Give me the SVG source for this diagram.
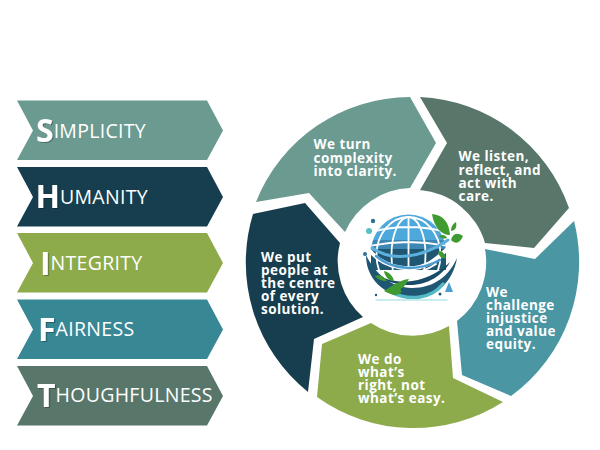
<svg xmlns="http://www.w3.org/2000/svg" width="600" height="450" viewBox="0 0 600 450">
<style>
.chev text{font-family:"Open Sans",sans-serif;fill:#fff;font-size:19.5px;letter-spacing:.3px}
.chev .cap{font-size:32px;font-weight:700;letter-spacing:0;filter:url(#sh)}
.seg text{font-family:"Open Sans",sans-serif;font-weight:700;fill:#fff;font-size:13.5px;letter-spacing:.45px}
</style>
<defs>
<filter id="sh" x="-30%" y="-30%" width="170%" height="170%"><feDropShadow dx="1.2" dy="1" stdDeviation=".3" flood-color="#000" flood-opacity=".3"/></filter>
<path id="chevron" d="M0 0H190L206 30L190 59.500H0L16 30Z"/>
<clipPath id="globeclip"><path d="M371 252A37 37 0 1 1 446 252L446 270L371 270Z"/></clipPath>
</defs>
<rect width="600" height="450" fill="#fff"/>
<g id="chevron-simplicity" class="chev"><use href="#chevron" x="17" y="100.500" fill="#6a9a90"/><text x="36" y="137.500"><tspan class="cap" dy="4.500">S</tspan><tspan dy="-4.500">IMPLICITY</tspan></text></g>
<g id="chevron-humanity" class="chev"><use href="#chevron" x="17" y="167" fill="#163e4e"/><text x="35.500" y="203.500"><tspan class="cap" dy="4.500">H</tspan><tspan dy="-4.500">UMANITY</tspan></text></g>
<g id="chevron-integrity" class="chev"><use href="#chevron" x="17" y="233" fill="#8eab4b"/><text x="40" y="270"><tspan class="cap" dy="4.500">I</tspan><tspan dy="-4.500">NTEGRITY</tspan></text></g>
<g id="chevron-fairness" class="chev"><use href="#chevron" x="17" y="299.500" fill="#388795"/><text x="38" y="336"><tspan class="cap" dy="4.500">F</tspan><tspan dy="-4.500">AIRNESS</tspan></text></g>
<g id="chevron-thoughtfulness" class="chev"><use href="#chevron" x="17" y="366" fill="#58776a"/><text x="37" y="402"><tspan class="cap" dy="4.500">T</tspan><tspan dy="-4.500">HOUGHFULNESS</tspan></text></g>
<g id="connectors"/>
<g id="seg-simplicity" class="seg"><path fill="#6a9a90" d="M256 202A166 166 0 0 1 410 97L436 143L410 188A74 74 0 0 0 345 232L309 193Z"/><text><tspan x="313.500" y="149">We turn</tspan><tspan x="313.500" y="163">complexity</tspan><tspan x="313.500" y="176">into clarity.</tspan></text></g>
<g id="seg-listen" class="seg"><path fill="#58776a" d="M420 97A166 166 0 0 1 569 208L534 248L485 243A74 74 0 0 0 420 190L447 143Z"/><text><tspan x="458.500" y="161">We listen,</tspan><tspan x="458.500" y="174.500">reflect, and</tspan><tspan x="458.500" y="187.500">act with</tspan><tspan x="458.500" y="200.500">care.</tspan></text></g>
<g id="seg-fairness" class="seg"><path fill="#4a96a3" d="M574 221A166 166 0 0 1 511 396L462 375L457 321A74 74 0 0 0 485 249L535 259Z"/><text><tspan x="486" y="297">We</tspan><tspan x="486" y="310">challenge</tspan><tspan x="486" y="323">injustice</tspan><tspan x="486" y="336">and value</tspan><tspan x="486" y="349">equity.</tspan></text></g>
<g id="seg-integrity" class="seg"><path fill="#8eab4b" d="M371 323A74 74 0 0 0 449 326L453 378L503 402A166 166 0 0 1 317 397L322 344Z"/><text><tspan x="358" y="364">We do</tspan><tspan x="358" y="377">what’s</tspan><tspan x="358" y="390">right, not</tspan><tspan x="358" y="403">what’s easy.</tspan></text></g>
<g id="seg-people" class="seg"><path fill="#163e4e" d="M308 392A166 166 0 0 1 253 214L305 203L340 243A74 74 0 0 0 363 317L314 339Z"/><text><tspan x="261" y="262">We put</tspan><tspan x="261" y="275">people at</tspan><tspan x="261" y="288">the centre</tspan><tspan x="261" y="301">of every</tspan><tspan x="261" y="314">solution.</tspan></text></g>
<g id="globe-logo">
<g clip-path="url(#globeclip)">
<rect x="365" y="212" width="90" height="30" fill="#4da9dc"/>
<rect x="365" y="240" width="90" height="10" fill="#3d87b4"/>
<rect x="365" y="249" width="90" height="25" fill="#1f5773"/>
<g fill="none" stroke="#fff" stroke-width="1.800"><ellipse cx="408.500" cy="255" rx="17" ry="38"/><ellipse cx="408.500" cy="255" rx="32" ry="38"/><path d="M408.500 217V280M372 232Q408 222 446 232M369 246Q408 238 448 246"/></g>
</g>
<path fill="#1f5773" d="M366 255C366 284 392 299 414 298C436 297 453 282 457 258C449 276 434 288 412 288C392 288 375 274 366 255Z"/>
<path fill="#1a4b66" d="M365 262C372 276 392 284 412 281C428 279 442 270 450 262C443 275 428 285 410 285C390 285 372 276 365 262Z"/>
<g fill="none" stroke-linecap="round">
<path d="M370 251C386 270 414 272 430 263C438 258 444 252 451 246" stroke="#fff" stroke-width="4"/>
<path d="M372 248C392 262 422 258 448 240" stroke="#5cb0de" stroke-width="3"/>
<path d="M376 256C392 270 418 272 440 260" stroke="#4a9dd0" stroke-width="2.500"/>
<path d="M398 273C410 275 424 272 436 264" stroke="#fff" stroke-width="2"/>
<path d="M391 292C410 302 432 298 443 284" stroke="#53b9c4" stroke-width="3.500"/>
<path d="M376 300H447" stroke="#b7e6ea" stroke-width="1.500"/>
</g>
<path fill="#4a9dd0" d="M445 292L449 282L453 292Z"/>
<g fill="#3f9b2f">
<path d="M432 214C444 215 449 223 450 235C441 235 434 227 432 214Z"/>
<path d="M451 240C453 233 457 232 463 236C460 243 456 245 451 240Z"/>
<path d="M451 231C451 226 453 224 456 222C457 227 456 230 451 231Z"/>
<path d="M439 236C442 234 446 235 447 238C444 239 441 239 439 236Z"/>
<path d="M438 252C441 250 444 252 446 258C442 259 439 257 438 252Z"/>
<path d="M375 276C379 274 384 276 387 281C382 281 378 280 375 276Z"/>
<path d="M384 271C389 272 393 276 394 281C389 281 385 277 384 271Z"/>
<path d="M384 291C392 286 400 280 409 279C406 284 404 288 400 289C403 291 401 294 396 295C392 295 388 293 384 291Z"/>
</g>
<g><circle cx="373" cy="221" r="2.200" fill="#2e6f98"/><circle cx="369" cy="231" r="3" fill="#5bc0c0"/><circle cx="365" cy="254" r="2" fill="#2e6f98"/><circle cx="376" cy="295" r="1.200" fill="#1f5773"/><circle cx="440" cy="294" r="1.500" fill="#1f5773"/></g>
</g>
</svg>
